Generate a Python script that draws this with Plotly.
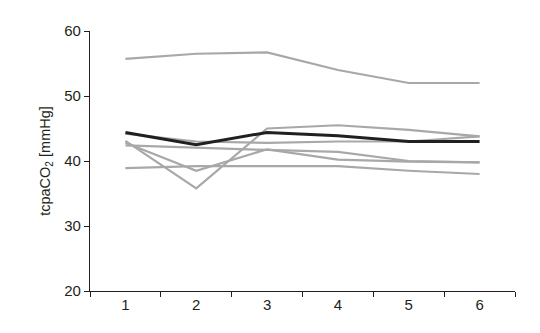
import plotly.graph_objects as go

categories = ["1", "2", "3", "4", "5", "6"]
top_series = [55.7, 56.5, 56.7, 54.0, 52.0, 52.0]
series_a = [43.1, 35.8, 45.0, 45.5, 44.8, 43.8]
series_b = [42.4, 42.0, 41.7, 41.4, 40.0, 39.8]
series_c = [42.8, 38.5, 41.8, 40.2, 39.9, 39.8]
series_d = [38.9, 39.2, 39.2, 39.2, 38.5, 38.0]
series_e = [44.2, 43.0, 42.8, 43.0, 43.0, 43.8]
mean_series = [44.4, 42.5, 44.4, 43.9, 43.0, 43.0]

gray_series = [top_series, series_a, series_b, series_c, series_d, series_e]

fig = go.Figure()
for s in gray_series:
    fig.add_trace(go.Scatter(x=categories, y=s, mode="lines",
                             line=dict(color="#a8a8ab", width=2.2), showlegend=False,
                             hoverinfo="skip"))
fig.add_trace(go.Scatter(x=categories, y=mean_series, mode="lines",
                         line=dict(color="#231f20", width=3), showlegend=False))

fig.update_layout(
    width=540, height=333,
    margin=dict(l=90, r=25, t=31, b=42),
    paper_bgcolor="white", plot_bgcolor="white",
    font=dict(family="Liberation Sans, Arial, sans-serif", color="#231f20", size=14),
)
fig.update_xaxes(
    type="category", range=[-0.5, 5.5], tickson="boundaries",
    ticks="outside", ticklen=5, tickwidth=1, tickcolor="#231f20",
    showline=True, linecolor="#231f20", linewidth=1.3,
    showgrid=False, zeroline=False, tickfont=dict(size=15),
)
fig.update_yaxes(
    range=[20, 60], tickvals=[20, 30, 40, 50, 60],
    ticks="outside", ticklen=5, tickwidth=1, tickcolor="#231f20",
    showline=True, linecolor="#231f20", linewidth=1.3,
    showgrid=False, zeroline=False, tickfont=dict(size=15),
    title=dict(text="tcpaCO<sub>2</sub> [mmHg]", font=dict(size=14.5), standoff=10),
)
fig.write_html("out.html")
